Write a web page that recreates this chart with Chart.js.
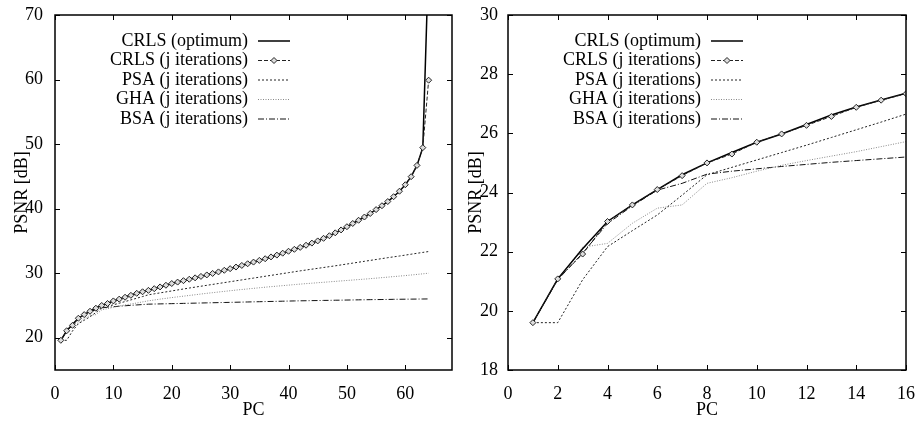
<!DOCTYPE html>
<html>
<head>
<meta charset="utf-8">
<script src="https://cdn.jsdelivr.net/npm/chart.js@4.4.1/dist/chart.umd.min.js"></script>
<style>
  body { margin: 0; background: #fff; }
  .panel { position: absolute; top: 0; height: 421px; }
  #left { left: 0; width: 458px; }
  #right { left: 458px; width: 459px; }
</style>
</head>
<body>
<div class="panel" id="left"><canvas id="leftChart"></canvas></div>
<div class="panel" id="right"><canvas id="rightChart"></canvas></div>
<script>
// number of principal components kept
const pcs = [
  1, 2, 3, 4, 5, 6, 7, 8, 9, 10, 11, 12, 13, 14, 15, 16,
  17, 18, 19, 20, 21, 22, 23, 24, 25, 26, 27, 28, 29, 30, 31, 32,
  33, 34, 35, 36, 37, 38, 39, 40, 41, 42, 43, 44, 45, 46, 47, 48,
  49, 50, 51, 52, 53, 54, 55, 56, 57, 58, 59, 60, 61, 62, 63, 64
]

// PSNR in dB
const crlsOptimum = [
  19.6, 21.08, 22.1, 23.02, 23.58, 24.1, 24.6, 25.0, 25.35, 25.7, 25.98, 26.3, 26.62, 26.89, 27.13, 27.36,
  27.6, 27.87, 28.13, 28.4, 28.62, 28.84, 29.06, 29.28, 29.5, 29.73, 29.96, 30.2, 30.45, 30.7, 30.95, 31.2,
  31.46, 31.72, 31.98, 32.24, 32.52, 32.8, 33.1, 33.4, 33.7, 34.0, 34.33, 34.66, 35.0, 35.4, 35.8, 36.25,
  36.7, 37.2, 37.7, 38.2, 38.7, 39.25, 39.85, 40.45, 41.1, 41.85, 42.7, 43.7, 44.95, 46.7, 49.45, 79
]
const crlsIter = [
  19.6, 21.08, 21.92, 23.02, 23.58, 24.1, 24.57, 25.0, 25.3, 25.7, 25.98, 26.27, 26.57, 26.88, 27.12, 27.34,
  27.6, 27.87, 28.13, 28.4, 28.62, 28.84, 29.06, 29.28, 29.5, 29.73, 29.96, 30.2, 30.45, 30.7, 30.95, 31.2,
  31.46, 31.72, 31.98, 32.24, 32.52, 32.8, 33.1, 33.4, 33.7, 34.0, 34.33, 34.66, 35.0, 35.4, 35.8, 36.25,
  36.7, 37.2, 37.7, 38.2, 38.7, 39.25, 39.85, 40.45, 41.1, 41.85, 42.7, 43.7, 44.95, 46.7, 49.45, 59.9
]
const psaIter = [
  19.6, 19.6, 21.05, 22.17, 22.71, 23.24, 23.91, 24.6, 24.85, 25.1, 25.35, 25.6, 25.86, 26.12, 26.38, 26.65,
  26.8, 26.95, 27.1, 27.25, 27.4, 27.55, 27.7, 27.84, 27.98, 28.12, 28.26, 28.4, 28.54, 28.68, 28.82, 28.96,
  29.1, 29.24, 29.38, 29.52, 29.66, 29.8, 29.94, 30.08, 30.22, 30.36, 30.49, 30.62, 30.75, 30.88, 31.01, 31.14,
  31.28, 31.42, 31.56, 31.7, 31.84, 31.98, 32.12, 32.26, 32.4, 32.53, 32.66, 32.8, 32.94, 33.08, 33.22, 33.35
]
const ghaIter = [
  19.6, 21.05, 22.15, 22.28, 22.96, 23.47, 23.58, 24.31, 24.5, 24.72, 24.92, 25.08, 25.23, 25.38, 25.55, 25.72,
  25.85, 25.98, 26.1, 26.22, 26.33, 26.44, 26.55, 26.66, 26.77, 26.88, 26.98, 27.08, 27.18, 27.28, 27.38, 27.47,
  27.56, 27.65, 27.74, 27.83, 27.91, 27.99, 28.07, 28.15, 28.23, 28.31, 28.38, 28.45, 28.52, 28.59, 28.66, 28.73,
  28.8, 28.87, 28.94, 29.01, 29.08, 29.15, 29.23, 29.31, 29.39, 29.47, 29.55, 29.63, 29.72, 29.81, 29.9, 30.0
]
const bsaIter = [
  19.6, 21.05, 21.95, 22.95, 23.55, 24.08, 24.31, 24.62, 24.72, 24.8, 24.88, 24.95, 25.02, 25.08, 25.14, 25.2,
  25.22, 25.24, 25.26, 25.28, 25.3, 25.32, 25.34, 25.36, 25.38, 25.4, 25.42, 25.44, 25.46, 25.48, 25.5, 25.52,
  25.54, 25.56, 25.58, 25.6, 25.62, 25.64, 25.66, 25.68, 25.7, 25.72, 25.73, 25.75, 25.76, 25.78, 25.79, 25.81,
  25.82, 25.84, 25.85, 25.87, 25.88, 25.9, 25.91, 25.92, 25.93, 25.95, 25.96, 25.97, 25.98, 25.99, 26.0, 26.01
]

const seriesLabels = ['CRLS (optimum)', 'CRLS (j iterations)', 'PSA (j iterations)', 'GHA (j iterations)', 'BSA (j iterations)']
const seriesValues = [crlsOptimum, crlsIter, psaIter, ghaIter, bsaIter]

const leftXTicks = [0, 10, 20, 30, 40, 50, 60]
const leftYTicks = [20, 30, 40, 50, 60, 70]
const rightXTicks = [0, 2, 4, 6, 8, 10, 12, 14, 16]
const rightYTicks = [18, 20, 22, 24, 26, 28, 30]

const FONT = '"Liberation Serif", "Times New Roman", serif'
const FONT_SIZE = 18

const styles = [
  { color: '#000', width: 1.5, dash: [], order: 1 },
  { color: '#222', width: 1, dash: [4, 2], order: 0, marker: true },
  { color: '#222', width: 1, dash: [2, 2], order: 2 },
  { color: '#888', width: 1, dash: [1, 1.5], order: 3 },
  { color: '#111', width: 1, dash: [6, 2, 1, 2], order: 4 }
]

// gnuplot-like box with inward ticks on all four sides, plus key inside the plot
const gnuplotFrame = {
  id: 'gnuplotFrame',
  afterDatasetsDraw(chart) {
    const { ctx, chartArea: a, scales } = chart
    const tl = 5
    ctx.save()
    ctx.strokeStyle = '#000'
    ctx.lineWidth = 1
    ctx.setLineDash([])
    ctx.beginPath()
    scales.x.ticks.forEach(t => {
      const x = Math.round(scales.x.getPixelForValue(t.value)) + 0.5
      ctx.moveTo(x, a.bottom); ctx.lineTo(x, a.bottom - tl)
      ctx.moveTo(x, a.top); ctx.lineTo(x, a.top + tl)
    })
    scales.y.ticks.forEach(t => {
      const y = Math.round(scales.y.getPixelForValue(t.value)) + 0.5
      ctx.moveTo(a.left, y); ctx.lineTo(a.left + tl, y)
      ctx.moveTo(a.right, y); ctx.lineTo(a.right - tl, y)
    })
    ctx.stroke()
    ctx.lineWidth = 1.5
    ctx.strokeRect(a.left, a.top, a.right - a.left, a.bottom - a.top)

    // key
    ctx.font = FONT_SIZE + 'px ' + FONT
    ctx.textAlign = 'right'
    ctx.textBaseline = 'middle'
    ctx.fillStyle = '#000'
    seriesLabels.forEach((label, i) => {
      const s = styles[i]
      const y = a.top + 26 + i * 19.5
      ctx.fillText(label, a.left + 193, y)
      const x0 = a.left + 203, x1 = a.left + 235
      ctx.strokeStyle = s.color
      ctx.lineWidth = s.width
      ctx.setLineDash(s.dash)
      ctx.beginPath()
      ctx.moveTo(x0, y); ctx.lineTo(x1, y)
      ctx.stroke()
      if (s.marker) {
        ctx.setLineDash([])
        ctx.fillStyle = '#ddd'
        const m = (x0 + x1) / 2
        ctx.beginPath()
        ctx.moveTo(m, y - 3); ctx.lineTo(m + 3, y); ctx.lineTo(m, y + 3); ctx.lineTo(m - 3, y)
        ctx.closePath()
        ctx.fill(); ctx.stroke()
        ctx.fillStyle = '#000'
      }
    })
    ctx.restore()
  }
}

const panels = [
  { id: 'leftChart', count: 64, xMin: 0, xMax: 68, yMin: 15, yMax: 70, xTicks: leftXTicks, yTicks: leftYTicks,
    yAxisWidth: 55, rightPad: 6, labelPad: 12, titlePad: 11 },
  { id: 'rightChart', count: 16, xMin: 0, xMax: 16, yMin: 18, yMax: 30, xTicks: rightXTicks, yTicks: rightYTicks,
    yAxisWidth: 50, rightPad: 11, labelPad: 10, titlePad: 7 }
]

panels.forEach(p => {
  const datasets = seriesValues.map((values, i) => {
    const s = styles[i]
    return {
      label: seriesLabels[i],
      data: values.slice(0, p.count).map((v, k) => ({ x: pcs[k], y: v })),
      borderColor: s.color,
      borderWidth: s.width,
      borderDash: s.dash,
      order: s.order,
      tension: 0,
      pointRadius: s.marker ? 3 : 0,
      pointStyle: 'rectRot',
      pointBorderColor: '#222',
      pointBorderWidth: 1,
      pointBackgroundColor: '#ddd'
    }
  })

  new Chart(document.getElementById(p.id), {
    type: 'line',
    data: { datasets },
    plugins: [gnuplotFrame],
    options: {
      responsive: true,
      maintainAspectRatio: false,
      animation: false,
      events: [],
      layout: { padding: { top: 15, right: p.rightPad, left: 0, bottom: 0 } },
      plugins: { legend: { display: false }, tooltip: { enabled: false } },
      scales: {
        x: {
          type: 'linear',
          min: p.xMin,
          max: p.xMax,
          grid: { display: false, drawTicks: false },
          border: { display: false },
          afterBuildTicks: s => { s.ticks = p.xTicks.map(v => ({ value: v })) },
          afterFit: s => { s.height = 51; s.paddingLeft = 0; s.paddingRight = 0 },
          ticks: { color: '#000', font: { family: FONT, size: FONT_SIZE }, padding: 13, maxRotation: 0 },
          title: { display: true, text: 'PC', color: '#000', font: { family: FONT, size: FONT_SIZE }, padding: { top: 0, bottom: 0 } }
        },
        y: {
          min: p.yMin,
          max: p.yMax,
          grid: { display: false, drawTicks: false },
          border: { display: false },
          afterBuildTicks: s => { s.ticks = p.yTicks.map(v => ({ value: v })) },
          afterFit: s => { s.width = p.yAxisWidth; s.paddingTop = 0; s.paddingBottom = 0 },
          ticks: { color: '#000', font: { family: FONT, size: FONT_SIZE }, padding: p.labelPad },
          title: { display: true, text: 'PSNR [dB]', color: '#000', font: { family: FONT, size: FONT_SIZE }, padding: { top: p.titlePad, bottom: 0 } }
        }
      }
    }
  })
})
</script>
</body>
</html>
